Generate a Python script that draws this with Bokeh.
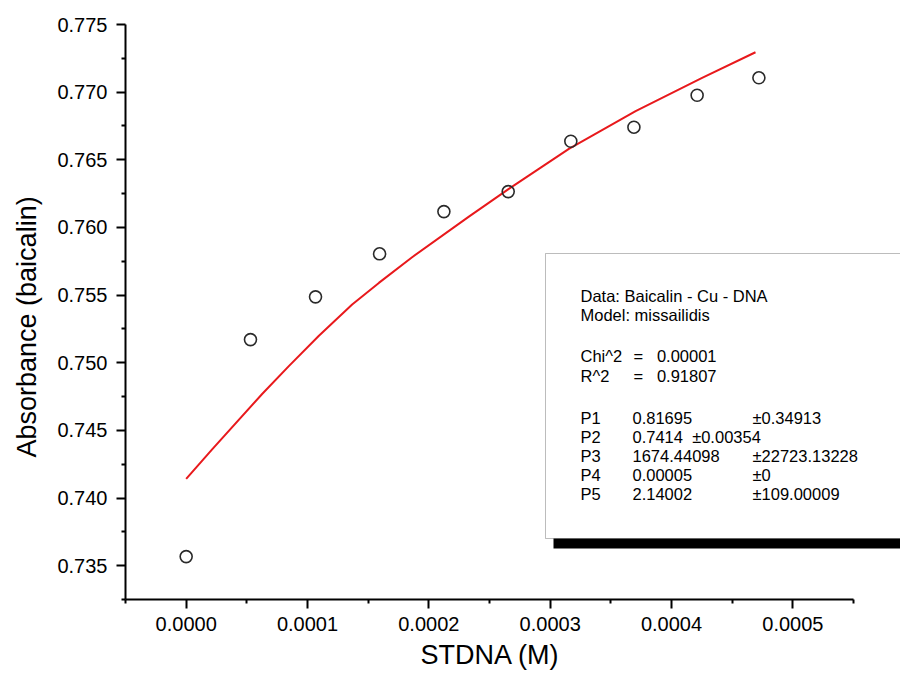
from bokeh.plotting import figure
from bokeh.models import FixedTicker, Range1d, Label, Title, BoxAnnotation, PrintfTickFormatter
from bokeh.embed import file_html
from bokeh.resources import INLINE

# ---- data ----
dna_conc = [0.0, 5.3e-5, 1.066e-4, 1.594e-4, 2.124e-4, 2.654e-4, 3.170e-4, 3.690e-4, 4.211e-4, 4.720e-4]
absorbance = [0.73567, 0.75171, 0.75487, 0.75805, 0.76117, 0.76265, 0.76637, 0.76741, 0.76977, 0.77106]

fit_x = [0.0, 2.14e-5, 6.26e-5, 8.46e-5, 1.094e-4, 1.368e-4, 1.588e-4, 1.862e-4, 2.330e-4,
         2.659e-4, 3.154e-4, 3.704e-4, 4.252e-4, 4.692e-4]
fit_y = [0.74141, 0.74360, 0.74769, 0.74975, 0.75200, 0.75430, 0.75590, 0.75780, 0.76080,
         0.76285, 0.76581, 0.76860, 0.77105, 0.77295]

x_major = [0.0, 0.0001, 0.0002, 0.0003, 0.0004, 0.0005]
x_minor = [-0.00005, 0.00005, 0.00015, 0.00025, 0.00035, 0.00045, 0.00055]
y_major = [0.735, 0.740, 0.745, 0.750, 0.755, 0.760, 0.765, 0.770, 0.775]
y_minor = [0.7325, 0.7375, 0.7425, 0.7475, 0.7525, 0.7575, 0.7625, 0.7675, 0.7725]

x_title = "STDNA (M)"
y_title = "Absorbance (baicalin)"

NB = "\u00a0"
info_lines = ["Data: Baicalin - Cu - DNA", "Model: missailidis"]
stat_names = ["Chi^2", "R^2"]
stat_values = ["=" + NB * 3 + "0.00001", "=" + NB * 3 + "0.91807"]
param_names = ["P1", "P2", "P3", "P4", "P5"]
param_values = ["0.81695", "0.7414" + NB * 2 + "\u00b10.00354", "1674.44098", "0.00005", "2.14002"]
param_errors = ["\u00b10.34913", "", "\u00b122723.13228", "\u00b10", "\u00b1109.00009"]

# ---- layout ----
W, H = 900, 680
ML, MT = 125, 24
MB = H - 599
FW = W - ML
FH = H - MT - MB
X0, X1 = -0.00005, -0.00005 + FW / 1.2134e6
Y0, Y1 = 0.7325, 0.775

FONT = "Liberation Sans"

p = figure(width=W, height=H, output_backend="svg", toolbar_location=None,
           x_range=Range1d(X0, X1), y_range=Range1d(Y0, Y1),
           min_border_left=ML, min_border_right=0, min_border_top=MT, min_border_bottom=MB)
p.outline_line_color = None
p.grid.visible = False
p.background_fill_color = "white"
p.border_fill_color = "white"


def px_to_x(px):
    # screen pixel -> data x
    return X0 + (px - ML) / FW * (X1 - X0)


def py_to_y(py):
    return Y1 - (py - MT) / FH * (Y1 - Y0)


for ax in (p.xaxis[0], p.yaxis[0]):
    ax.axis_line_width = 2
    ax.axis_line_color = "black"
    ax.major_tick_line_width = 2
    ax.minor_tick_line_width = 2
    ax.major_tick_in = 0
    ax.major_tick_out = 9
    ax.minor_tick_in = 0
    ax.minor_tick_out = 4
    ax.major_label_text_font = FONT
    ax.major_label_text_font_size = "20px"
    ax.major_label_text_color = "black"

p.xaxis.ticker = FixedTicker(ticks=x_major, minor_ticks=x_minor)
p.yaxis.ticker = FixedTicker(ticks=y_major, minor_ticks=y_minor)
p.xaxis.formatter = PrintfTickFormatter(format="%.4f")
p.yaxis.formatter = PrintfTickFormatter(format="%.3f")
p.xaxis.bounds = (x_minor[0], x_minor[-1])
p.xaxis.major_label_standoff = 8
p.yaxis.major_label_standoff = 9

p.add_layout(Title(text=x_title, align="left", offset=295, vertical_align="bottom", text_font=FONT,
                   text_color="black", text_font_size="27px", text_font_style="normal", standoff=8), "below")
p.add_layout(Title(text=y_title, align="left", offset=142, vertical_align="top", text_font=FONT,
                   text_color="black", text_font_size="27px", text_font_style="normal", standoff=22), "left")

# fitted curve and data
p.line(fit_x, fit_y, line_color="#e8191c", line_width=2)
p.scatter(dna_conc, absorbance, size=12, fill_color=None, line_color="#2a2a2a", line_width=1.6)

# ---- info box ----
p.add_layout(BoxAnnotation(left=px_to_x(553), right=px_to_x(915), top=py_to_y(262), bottom=py_to_y(548),
                           fill_color="black", fill_alpha=1, line_color=None))
p.add_layout(BoxAnnotation(left=px_to_x(545), right=px_to_x(905), top=py_to_y(253), bottom=py_to_y(538),
                           fill_color="white", fill_alpha=1, line_color="#222222", line_width=1))


def add_text(px, py, txt):
    p.add_layout(Label(x=px_to_x(px), y=py_to_y(py), text=txt, text_font=FONT, text_font_size="16.5px",
                       text_baseline="middle", text_align="left", text_color="black"))


for i, t in enumerate(info_lines):
    add_text(580, 295 + 19 * i, t)
for i, (n, v) in enumerate(zip(stat_names, stat_values)):
    add_text(580, 355 + 20 * i, n)
    add_text(633, 355 + 20 * i, v)
for i, (n, v, e) in enumerate(zip(param_names, param_values, param_errors)):
    add_text(580, 417 + 19 * i, n)
    add_text(632, 417 + 19 * i, v)
    if e:
        add_text(752, 417 + 19 * i, e)

open("out.html", "w").write(file_html(p, INLINE))
